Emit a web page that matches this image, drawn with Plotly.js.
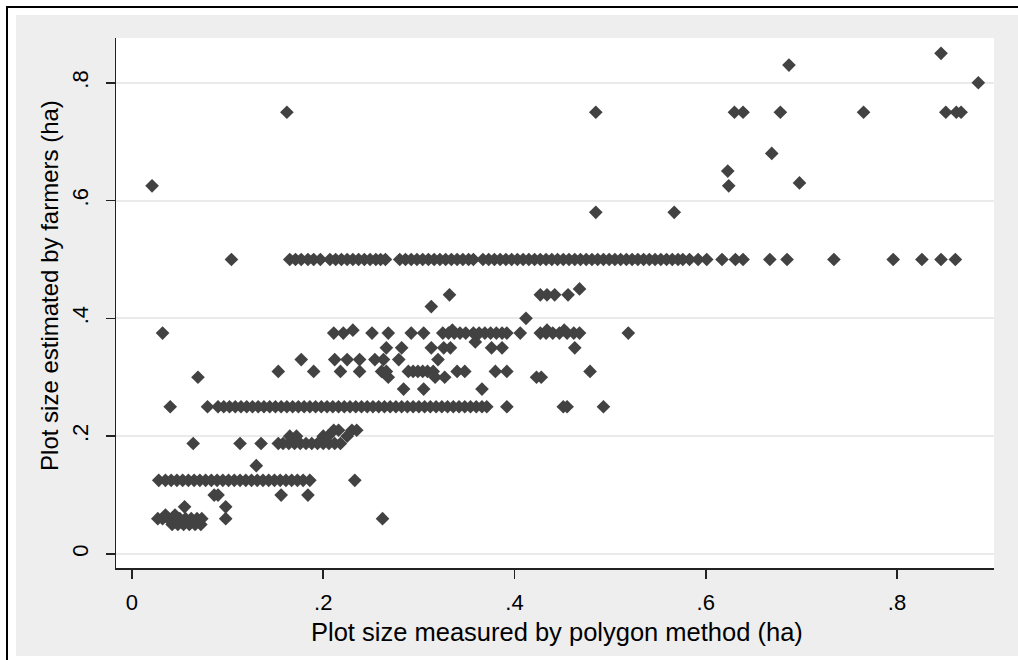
<!DOCTYPE html>
<html>
<head>
<meta charset="utf-8">
<script src="https://cdn.plot.ly/plotly-3.0.1.min.js"></script>
<style>
  html, body { margin: 0; padding: 0; background: #ffffff; width: 1018px; height: 660px; overflow: hidden; }
  #frame { position: absolute; left: 6px; top: 6px; width: 1020px; height: 660px; border-top: 2px solid #000; border-left: 2px solid #000; }
  #chart { position: absolute; left: 16px; top: 15px; width: 1002px; height: 641px; }
</style>
</head>
<body>
<div id="frame"></div>
<div id="chart"></div>
<script>
// Polygon-measured plot size (ha), grouped by the farmer's estimate (ha)
const farmer005 = [0.042, 0.048, 0.054, 0.060, 0.066, 0.072];
const farmer006 = [0.027, 0.032, 0.038, 0.044, 0.050, 0.056, 0.062, 0.068, 0.073, 0.098, 0.262];
const farmer007 = [0.035, 0.045];
const farmer008 = [0.055, 0.098];
const farmer010 = [0.086, 0.090, 0.156, 0.184];
const farmer0125 = [0.028, 0.035, 0.041, 0.047, 0.053, 0.059, 0.065, 0.071, 0.077, 0.083, 0.089, 0.095,
  0.101, 0.107, 0.113, 0.119, 0.125, 0.131, 0.137, 0.143, 0.149, 0.155, 0.161, 0.167, 0.173, 0.179, 0.186, 0.233];
const farmer015 = [0.130];
const farmer01875 = [0.064, 0.113, 0.135, 0.153, 0.158, 0.164, 0.170, 0.176, 0.182, 0.188, 0.194, 0.200, 0.206, 0.212, 0.218];
const farmer020 = [0.165, 0.172, 0.200, 0.205, 0.225];
const farmer021 = [0.211, 0.216, 0.230, 0.235];
const farmer025 = [0.040, 0.079, 0.090, 0.096, 0.102, 0.108, 0.114, 0.120, 0.126, 0.132, 0.138, 0.144, 0.150,
  0.156, 0.162, 0.168, 0.174, 0.180, 0.186, 0.192, 0.198, 0.204, 0.210, 0.216, 0.222, 0.228, 0.234, 0.240,
  0.246, 0.252, 0.258, 0.264, 0.270, 0.276, 0.282, 0.288, 0.294, 0.300, 0.306, 0.312, 0.318, 0.324, 0.330,
  0.336, 0.342, 0.348, 0.354, 0.360, 0.366, 0.371, 0.392, 0.451, 0.455, 0.493];
const farmer028 = [0.284, 0.305, 0.366];
const farmer030 = [0.069, 0.268, 0.317, 0.327, 0.423, 0.428];
const farmer031 = [0.153, 0.190, 0.218, 0.238, 0.261, 0.266, 0.289, 0.294, 0.299, 0.304, 0.309, 0.315,
  0.340, 0.348, 0.380, 0.392, 0.479];
const farmer033 = [0.177, 0.212, 0.225, 0.238, 0.254, 0.263, 0.279, 0.320];
const farmer035 = [0.266, 0.282, 0.313, 0.326, 0.333, 0.376, 0.387, 0.463];
const farmer036 = [0.359];
const farmer0375 = [0.032, 0.211, 0.221, 0.251, 0.268, 0.292, 0.305, 0.325, 0.331, 0.337, 0.343, 0.349,
  0.357, 0.363, 0.369, 0.375, 0.381, 0.387, 0.392, 0.406, 0.427, 0.433, 0.440, 0.447, 0.455, 0.462, 0.468, 0.519];
const farmer038 = [0.231, 0.335, 0.434, 0.452];
const farmer040 = [0.412];
const farmer042 = [0.313];
const farmer044 = [0.332, 0.427, 0.434, 0.442, 0.456];
const farmer045 = [0.468];
const farmer050 = [0.104, 0.165, 0.171, 0.177, 0.184, 0.190, 0.197, 0.207, 0.213, 0.219, 0.225, 0.231, 0.237,
  0.243, 0.249, 0.255, 0.260, 0.265, 0.280, 0.286, 0.292, 0.298, 0.304, 0.310, 0.316, 0.322, 0.328, 0.334,
  0.340, 0.346, 0.352, 0.357, 0.367, 0.373, 0.379, 0.385, 0.391, 0.397, 0.403, 0.409, 0.415, 0.421, 0.427,
  0.433, 0.439, 0.445, 0.451, 0.457, 0.463, 0.469, 0.475, 0.481, 0.487, 0.493, 0.499, 0.505, 0.511, 0.517,
  0.523, 0.529, 0.535, 0.541, 0.547, 0.553, 0.559, 0.565, 0.571, 0.576, 0.583, 0.592, 0.601, 0.617, 0.631,
  0.639, 0.667, 0.685, 0.734, 0.796, 0.826, 0.846, 0.861];
const farmer058 = [0.485, 0.567];
const farmer0625 = [0.021, 0.624];
const farmer063 = [0.698];
const farmer065 = [0.623];
const farmer068 = [0.669];
const farmer075 = [0.162, 0.485, 0.630, 0.639, 0.678, 0.765, 0.851, 0.862, 0.867];
const farmer080 = [0.885];
const farmer083 = [0.687];
const farmer085 = [0.846];

const estimateLevels = [0.05, 0.06, 0.066, 0.08, 0.10, 0.125, 0.15, 0.1875, 0.20, 0.21, 0.25, 0.28, 0.30,
  0.31, 0.33, 0.35, 0.36, 0.375, 0.38, 0.40, 0.42, 0.44, 0.45, 0.50, 0.58, 0.625, 0.63, 0.65, 0.68, 0.75,
  0.80, 0.83, 0.85];
const measuredGroups = [farmer005, farmer006, farmer007, farmer008, farmer010, farmer0125, farmer015,
  farmer01875, farmer020, farmer021, farmer025, farmer028, farmer030, farmer031, farmer033, farmer035,
  farmer036, farmer0375, farmer038, farmer040, farmer042, farmer044, farmer045, farmer050, farmer058,
  farmer0625, farmer063, farmer065, farmer068, farmer075, farmer080, farmer083, farmer085];

const tickVals = [0, 0.2, 0.4, 0.6, 0.8];
const tickText = ["0", ".2", ".4", ".6", ".8"];

const xs = [], ys = [];
measuredGroups.forEach((g, i) => g.forEach(v => { xs.push(v); ys.push(estimateLevels[i]); }));

const fontFam = '"Liberation Sans", Arial, sans-serif';

Plotly.newPlot('chart', [{
  type: 'scatter', mode: 'markers', x: xs, y: ys,
  marker: { symbol: 'diamond', size: 10.5, color: '#424242', line: { width: 0 } },
  hoverinfo: 'none'
}], {
  width: 1002, height: 641,
  margin: { l: 100, r: 24, t: 23, b: 88, pad: 0 },
  paper_bgcolor: '#eeeeee', plot_bgcolor: '#ffffff',
  showlegend: false,
  font: { family: fontFam, color: '#000', size: 22 },
  xaxis: {
    range: [-0.0167, 0.9014], tickvals: tickVals, ticktext: tickText,
    showgrid: false, zeroline: false,
    showline: true, linecolor: '#222', linewidth: 1.5,
    ticks: 'outside', ticklen: 9, tickwidth: 1.5, tickcolor: '#222',
    tickfont: { family: fontFam, size: 22, color: '#000' }, ticklabelstandoff: 5
  },
  yaxis: {
    range: [-0.0238, 0.876], tickvals: tickVals, ticktext: tickText,
    showgrid: true, gridcolor: '#eaeaea', gridwidth: 2,
    zeroline: true, zerolinecolor: '#eaeaea', zerolinewidth: 2,
    showline: true, linecolor: '#222', linewidth: 1.5,
    ticks: 'outside', ticklen: 9, tickwidth: 1.5, tickcolor: '#222',
    tickangle: -90,
    tickfont: { family: fontFam, size: 22, color: '#000' }, ticklabelstandoff: 9
  },
  annotations: [
    { text: 'Plot size measured by polygon method (ha)', xref: 'paper', yref: 'paper',
      x: 0.502, y: -0.121, xanchor: 'center', yanchor: 'middle', showarrow: false,
      font: { family: fontFam, size: 25.5, color: '#000' } },
    { text: 'Plot size estimated by farmers (ha)', xref: 'paper', yref: 'paper',
      x: -0.0752, y: 0.534, xanchor: 'center', yanchor: 'middle', textangle: -90, showarrow: false,
      font: { family: fontFam, size: 24, color: '#000' } }
  ]
}, { displayModeBar: false, staticPlot: true });
</script>
</body>
</html>
